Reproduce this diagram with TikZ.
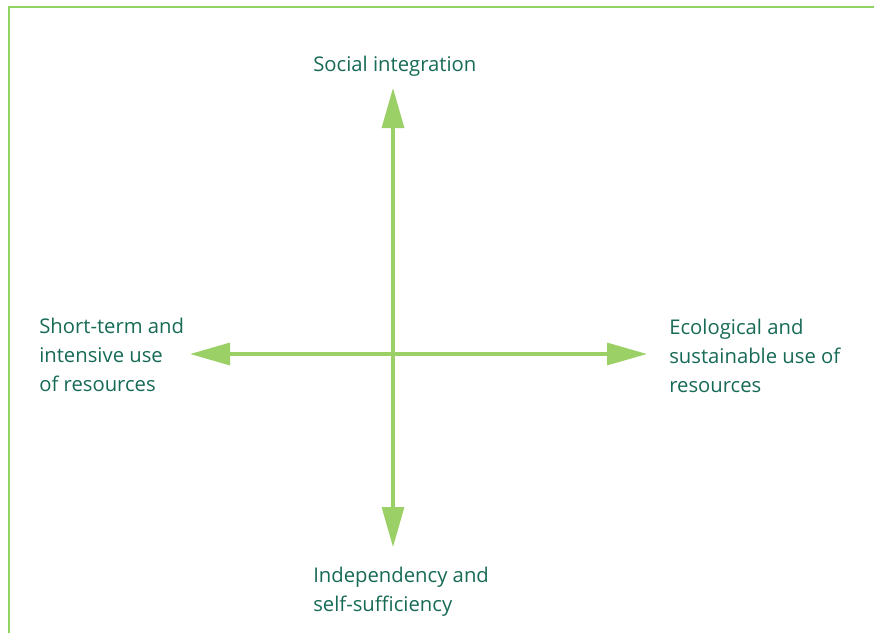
\documentclass[tikz,border=0pt]{standalone}
\usepackage{fontspec}
\setmainfont{Open Sans}
\usetikzlibrary{arrows.meta,positioning}
\definecolor{framegreen}{RGB}{146,210,98}
\definecolor{axisgreen}{RGB}{155,208,103}
\definecolor{labelteal}{RGB}{22,106,86}

\begin{document}
\begin{tikzpicture}[x=0.75pt,y=-0.75pt,
    axis/.style={draw=axisgreen,line width=2.4pt,{Triangle[length=30pt,width=16.5pt]}-{Triangle[length=30pt,width=16.5pt]}},
    pole/.style={text=labelteal,align=left,inner sep=0pt,anchor=base west,
        font=\fontsize{15.2}{21.75}\selectfont}]
  \useasboundingbox (0,0) rectangle (874,633);
  \draw[framegreen,line width=1.5pt] (9,633) -- (9,7) -- (874,7);
  % axis ends
  \coordinate (north) at (393,88);
  \coordinate (south) at (393,547);
  \coordinate (west) at (190,354);
  \coordinate (east) at (647,354);
  \draw[axis] (south) -- (north);
  \draw[axis] (west) -- (east);
  % poles (base = last line)
  \node[pole] (social) at (313,71) {Social integration};
  \node[pole] (shortterm) at (39,391) {Short-term and\\intensive use\\of resources};
  \node[pole] (ecological) at (669,392) {Ecological and\\sustainable use of\\resources};
  \node[pole] (independency) at (313,611) {Independency and\\self-sufficiency};
\end{tikzpicture}
\end{document}
